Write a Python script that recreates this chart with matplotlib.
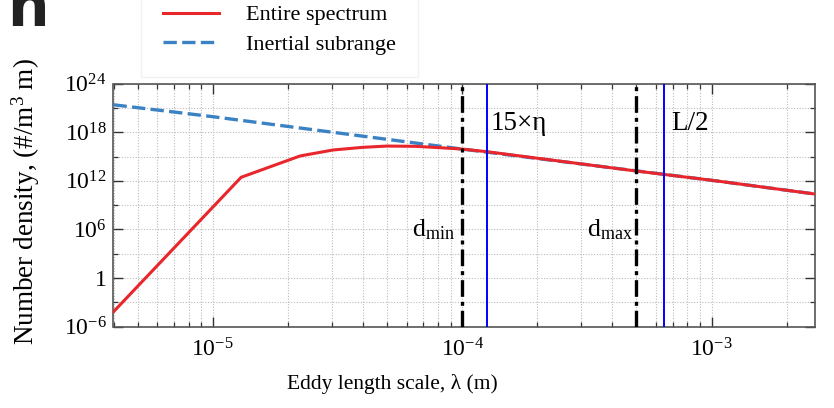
import matplotlib
matplotlib.use("Agg")
import matplotlib.pyplot as plt
import matplotlib.ticker as mticker

plt.rcParams["font.family"] = ["Liberation Serif", "DejaVu Serif"]
plt.rcParams["mathtext.fontset"] = "custom"
plt.rcParams["mathtext.rm"] = "Liberation Serif"
plt.rcParams["mathtext.it"] = "Liberation Serif:italic"

# values
lam_entire = [4.0e-6, 1.3e-5, 2.24e-5, 3.03e-5, 4.0e-5, 5.0e-5, 6.5e-5, 8.0e-5,
              1.0e-4, 1.26e-4, 5.0e-4, 1.0e-3, 2.6e-3]
n_entire = [7e-5, 2.8e12, 1.2e15, 6.5e15, 1.4e16, 2.0e16, 1.85e16, 1.3e16,
            8.5e15, 4.0e15, 1.65e13, 1.2e12, 2.4e10]
lam_inertial = [4.0e-6, 1.0e-5, 1.0e-4, 1.0e-3, 2.6e-3]
n_inertial = [2.5e21, 8.5e19, 8.5e15, 1.2e12, 2.4e10]

d_min, d_max = 1.0e-4, 5.0e-4
eta15, half_L = 1.26e-4, 6.45e-4

yticks = [1e-6, 1, 1e6, 1e12, 1e18, 1e24]
ytick_labels = [r"$10^{-6}$", "1", r"$10^{6}$", r"$10^{12}$", r"$10^{18}$", r"$10^{24}$"]
xticks = [1e-5, 1e-4, 1e-3]
xtick_labels = [r"$10^{-5}$", r"$10^{-4}$", r"$10^{-3}$"]

W, H = 834, 408
fig = plt.figure(figsize=(W / 100, H / 100), dpi=100)
ax = fig.add_axes([113.5 / W, 1 - 326.7 / H, (815 - 113.5) / W, (326.7 - 83.7) / H])

ax.plot(lam_entire, n_entire, color="#e8262b", lw=2.2, label="Entire spectrum", zorder=4)
ax.plot(lam_inertial, n_inertial, color="#3b82c4", lw=2.4, ls=(0, (4, 1.6)),
        label="Inertial subrange", zorder=3)

for x in (d_min, d_max):
    ax.axvline(x, color="black", lw=2.4, ls=(0, (5, 1.5, 1.2, 1.5)), zorder=5)
for x in (eta15, half_L):
    ax.axvline(x, color="#0000ff", lw=1.4, zorder=5)

ax.set_xscale("log")
ax.set_yscale("log")
ax.set_xlim(4.0e-6, 2.6e-3)
ax.set_ylim(1e-6, 1e24)

ax.set_xticks(xticks)
ax.set_xticklabels(xtick_labels)
ax.xaxis.set_minor_locator(mticker.LogLocator(base=10, subs=range(2, 10), numticks=20))
ax.xaxis.set_minor_formatter(mticker.NullFormatter())
ax.set_yticks(yticks)
ax.set_yticklabels(ytick_labels)
ax.yaxis.set_minor_locator(mticker.FixedLocator([1e-3, 1e3, 1e9, 1e15, 1e21]))
ax.yaxis.set_minor_formatter(mticker.NullFormatter())

ax.tick_params(which="both", direction="in", top=True, right=True,
               colors="#333333", labelcolor="black", labelsize=17)
ax.tick_params(which="major", length=7, width=1.0)
ax.tick_params(axis="x", which="major", pad=8)
ax.tick_params(axis="y", which="major", pad=5)
ax.tick_params(which="minor", length=3.8, width=0.9)
for s in ax.spines.values():
    s.set_color("#555555")
    s.set_linewidth(1.2)

ax.grid(True, which="both", color="#bbbbbb", ls=(0, (1, 1.5)), lw=0.8)

trans = ax.get_xaxis_transform()
ax.text(eta15 * 1.035, 0.809, "15×η", transform=trans, fontsize=19.5,
        ha="left", va="baseline")
ax.text(half_L * 1.065, 0.809, "L/2", transform=trans, fontsize=19.5,
        ha="left", va="baseline")
ax.text(d_min * 0.935, 0.370, r"d$_{\mathrm{min}}$", transform=trans, fontsize=18.5,
        ha="right", va="baseline")
ax.text(d_max * 0.965, 0.370, r"d$_{\mathrm{max}}$", transform=trans, fontsize=18.5,
        ha="right", va="baseline")

ax.set_xlabel("Eddy length scale, λ (m)", fontsize=15.5)
ax.set_ylabel(r"Number density, (#/m$^{3}$ m)", fontsize=19.5)
ax.xaxis.set_label_coords(0.397, -0.195)
ax.yaxis.set_label_coords(-0.102, 0.515)

fig.legend(loc="upper left", bbox_to_anchor=(130 / W, 1.07), fontsize=16,
           frameon=True, edgecolor="#eeeeee", fancybox=False, borderpad=1.0,
           handlelength=2.5, handletextpad=1.2, labelspacing=0.42)

fig.text(7 / W, 1 - 26 / H, "n", fontsize=42, fontweight="bold",
         family="DejaVu Sans", color="#222222", va="baseline", ha="left")

fig.savefig("out.png", dpi=100)
